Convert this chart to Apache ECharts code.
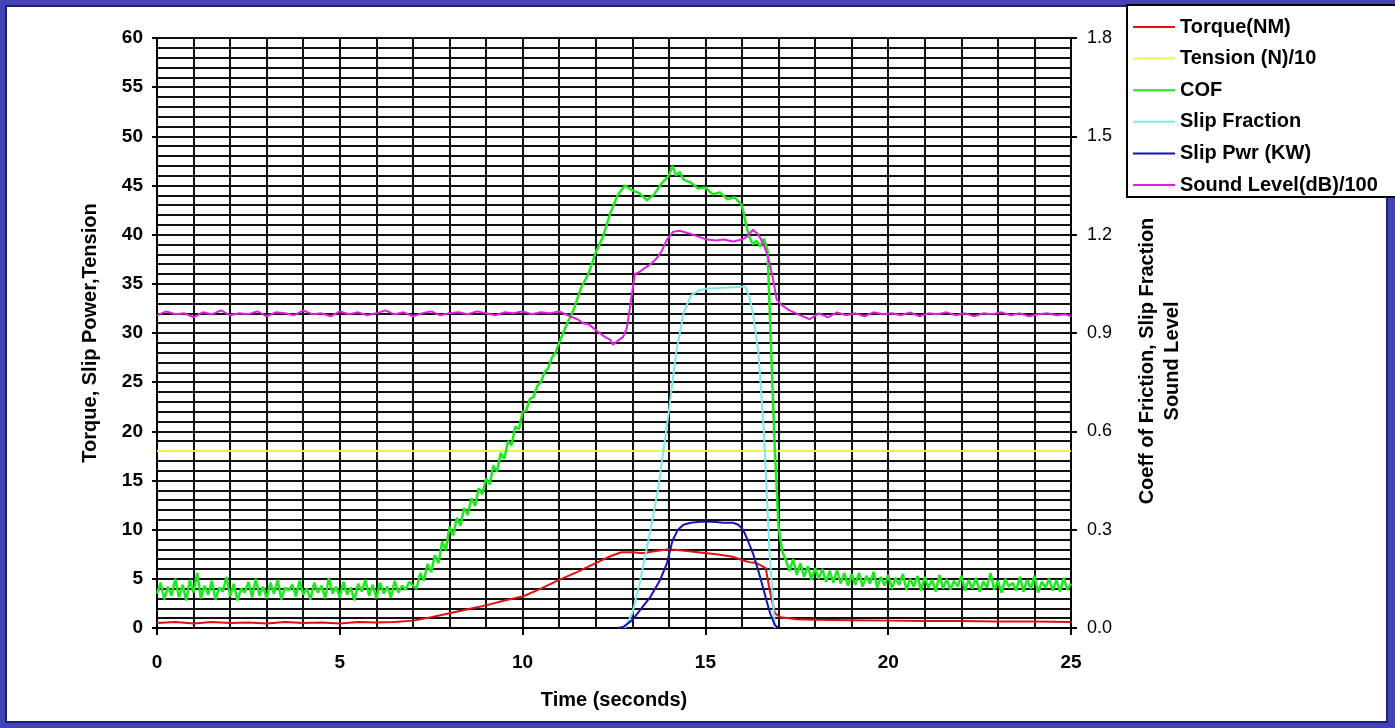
<!DOCTYPE html>
<html>
<head>
<meta charset="utf-8">
<script src="https://cdn.jsdelivr.net/npm/echarts@6/dist/echarts.min.js"></script>
<style>
  html, body { margin: 0; padding: 0; width: 1395px; height: 728px; overflow: hidden; background: #4343b4; }
  #panel { position: absolute; left: 5px; top: 5px; width: 1383px; height: 718px; box-sizing: border-box;
           background: #ffffff; border: 2px solid #20207a; }
  #chart { position: absolute; left: 0; top: 0; width: 1395px; height: 728px; }
</style>
</head>
<body>
<div id="panel"></div>
<div id="chart"></div>
<script>
// ---- data (time in seconds, value) ----
const seriesNames = ['Torque(NM)', 'Tension (N)/10', 'COF', 'Slip Fraction', 'Slip Pwr (KW)', 'Sound Level(dB)/100'];

// left axis units
const torqueData = [[0,0.5],[0.5,0.6],[1,0.45],[1.5,0.6],[2,0.5],[2.5,0.55],[3,0.45],[3.5,0.6],[4,0.5],[4.5,0.55],
  [5,0.45],[5.5,0.6],[6,0.55],[6.5,0.6],[7,0.75],[7.5,1.1],[8,1.5],[8.5,1.9],[9,2.3],[9.5,2.8],[10,3.2],[10.5,4.0],
  [11,4.9],[11.5,5.7],[12,6.6],[12.4,7.3],[12.7,7.7],[13,7.7],[13.3,7.6],[13.6,7.8],[14,8.0],[14.3,7.9],[14.8,7.7],
  [15.3,7.5],[15.75,7.25],[16,6.9],[16.2,6.7],[16.4,6.6],[16.65,6.1],[16.75,4.0],[16.9,1.5],[17.05,1.1],[17.5,0.9],
  [18,0.85],[19,0.8],[20,0.75],[21,0.7],[22,0.7],[23,0.65],[24,0.65],[25,0.6]];

const tensionData = [[0,18],[25,18]];

const slipPowerData = [[12.6,0],[12.75,0.1],[13.0,0.8],[13.25,2.0],[13.5,3.2],[13.75,4.8],[13.95,6.6],[14.1,8.9],
  [14.25,10.0],[14.4,10.5],[14.6,10.7],[14.85,10.8],[15.2,10.8],[15.5,10.7],[15.75,10.7],[15.9,10.5],[16.03,10.0],
  [16.15,9.0],[16.3,7.6],[16.45,5.8],[16.57,4.2],[16.67,2.8],[16.77,1.5],[16.9,0.3],[17.0,0]];

// right axis units
const cofData = [[0,0.105],[0.1,0.138],[0.2,0.087],[0.3,0.126],[0.4,0.099],[0.5,0.150],[0.6,0.093],[0.7,0.132],[0.8,0.084],[0.9,0.147],
  [1,0.108],[1.1,0.168],[1.2,0.090],[1.3,0.129],[1.4,0.102],[1.5,0.144],[1.6,0.087],[1.7,0.123],[1.8,0.111],[1.9,0.156],
  [2,0.096],[2.1,0.135],[2.2,0.084],[2.3,0.120],[2.4,0.108],[2.5,0.141],[2.6,0.093],[2.7,0.150],[2.8,0.099],[2.9,0.126],
  [3,0.090],[3.1,0.138],[3.2,0.105],[3.3,0.147],[3.4,0.087],[3.5,0.123],[3.6,0.114],[3.7,0.132],[3.8,0.096],[3.9,0.144],
  [4,0.102],[4.1,0.120],[4.2,0.087],[4.3,0.138],[4.4,0.108],[4.5,0.129],[4.6,0.090],[4.7,0.153],[4.8,0.105],[4.9,0.126],
  [5,0.093],[5.1,0.141],[5.2,0.102],[5.3,0.123],[5.4,0.084],[5.5,0.135],[5.6,0.111],[5.7,0.147],[5.8,0.099],[5.9,0.132],
  [6,0.090],[6.1,0.138],[6.2,0.105],[6.3,0.126],[6.4,0.093],[6.5,0.144],[6.6,0.108],[6.7,0.129],[6.8,0.117],[6.9,0.141],
  [7,0.129],[7.1,0.120],[7.2,0.168],[7.3,0.144],[7.4,0.195],[7.5,0.171],[7.6,0.222],[7.7,0.198],[7.8,0.264],[7.9,0.237],
  [8,0.309],[8.1,0.282],[8.2,0.336],[8.3,0.312],[8.4,0.366],[8.5,0.345],[8.6,0.396],[8.7,0.372],[8.8,0.426],[8.9,0.408],
  [9,0.456],[9.1,0.438],[9.2,0.495],[9.3,0.477],[9.4,0.534],[9.5,0.516],[9.6,0.570],[9.7,0.558],[9.8,0.615],[9.9,0.606],
  [10,0.660],[10.1,0.663],[10.2,0.699],[10.3,0.705],[10.4,0.738],[10.5,0.750],[10.6,0.780],[10.7,0.792],[10.8,0.825],[10.9,0.840],
  [11,0.870],[11.2,0.924],[11.4,0.972],[11.6,1.038],[11.8,1.080],[12,1.146],[12.2,1.194],[12.4,1.266],[12.6,1.320],[12.8,1.350],
  [13,1.335],[13.2,1.326],[13.4,1.305],[13.6,1.323],[13.8,1.356],[14,1.380],[14.1,1.410],[14.2,1.380],[14.3,1.392],[14.4,1.368],
  [14.6,1.359],[14.8,1.341],[15,1.344],[15.2,1.323],[15.4,1.329],[15.6,1.308],[15.8,1.314],[16,1.290],[16.1,1.236],[16.2,1.194],
  [16.3,1.170],[16.4,1.182],[16.5,1.164],[16.6,1.188],[16.7,1.152],[16.8,0.840],[16.9,0.540],[17,0.310],[17.1,0.234],
  [17.2,0.207],[17.3,0.174],[17.4,0.210],[17.5,0.162],[17.6,0.198],[17.7,0.156],[17.8,0.189],[17.9,0.147],[18,0.183],[18.1,0.150],
  [18.2,0.180],[18.3,0.141],[18.4,0.174],[18.5,0.138],[18.6,0.177],[18.7,0.135],[18.8,0.168],[18.9,0.129],[19,0.165],[19.1,0.132],
  [19.2,0.168],[19.3,0.126],[19.4,0.159],[19.5,0.135],[19.6,0.171],[19.7,0.123],[19.8,0.156],[19.9,0.129],[20,0.162],[20.1,0.120],
  [20.2,0.153],[20.3,0.132],[20.4,0.165],[20.5,0.117],[20.6,0.150],[20.7,0.126],[20.8,0.159],[20.9,0.114],[21,0.156],[21.1,0.123],
  [21.2,0.147],[21.3,0.111],[21.4,0.162],[21.5,0.120],[21.6,0.150],[21.7,0.117],[21.8,0.144],[21.9,0.126],[22,0.159],[22.1,0.114],
  [22.2,0.147],[22.3,0.120],[22.4,0.153],[22.5,0.111],[22.6,0.141],[22.7,0.123],[22.8,0.168],[22.9,0.117],[23,0.144],[23.1,0.108],
  [23.2,0.150],[23.3,0.126],[23.4,0.138],[23.5,0.114],[23.6,0.156],[23.7,0.111],[23.8,0.147],[23.9,0.120],[24,0.159],[24.1,0.108],
  [24.2,0.141],[24.3,0.123],[24.4,0.150],[24.5,0.114],[24.6,0.147],[24.7,0.111],[24.8,0.153],[24.9,0.117],[25,0.135]];

const slipFractionData = [[12.8,0],[13.0,0.045],[13.2,0.135],[13.5,0.30],[13.7,0.42],[14.0,0.66],[14.2,0.84],[14.4,0.96],
  [14.6,1.014],[14.8,1.029],[15.0,1.035],[15.5,1.038],[16.0,1.041],[16.1,1.041],[16.2,1.011],[16.3,0.96],[16.45,0.84],
  [16.6,0.60],[16.75,0.24],[16.9,0]];

const soundData = [[0,0.954],[0.25,0.966],[0.5,0.957],[0.75,0.960],[1,0.948],[1.25,0.963],[1.5,0.957],[1.75,0.969],
  [2,0.954],[2.25,0.960],[2.5,0.957],[2.75,0.966],[3,0.951],[3.25,0.963],[3.5,0.960],[3.75,0.954],[4,0.969],[4.25,0.957],
  [4.5,0.960],[4.75,0.951],[5,0.966],[5.25,0.957],[5.5,0.963],[5.75,0.954],[6,0.960],[6.25,0.969],[6.5,0.957],[6.75,0.963],
  [7,0.951],[7.25,0.960],[7.5,0.966],[7.75,0.954],[8,0.960],[8.25,0.963],[8.5,0.957],[8.75,0.966],[9,0.960],[9.25,0.954],
  [9.5,0.963],[9.75,0.960],[10,0.966],[10.25,0.957],[10.5,0.963],[10.75,0.960],[11,0.966],
  [11.3,0.951],[11.5,0.942],[11.65,0.930],[11.8,0.927],[12,0.909],[12.1,0.900],[12.25,0.888],[12.4,0.879],[12.47,0.864],
  [12.6,0.876],[12.75,0.888],[12.85,0.915],[12.94,0.981],[13.07,1.080],[13.2,1.086],[13.3,1.095],[13.5,1.110],[13.67,1.128],
  [13.8,1.149],[13.95,1.185],[14.12,1.209],[14.3,1.212],[14.58,1.203],[14.8,1.194],[15.04,1.185],[15.3,1.182],[15.5,1.185],
  [15.76,1.179],[16,1.185],[16.14,1.194],[16.3,1.215],[16.45,1.200],[16.58,1.173],[16.71,1.134],[16.85,1.065],[16.95,1.002],
  [17.1,0.984],[17.3,0.969],[17.6,0.954],[17.85,0.942],[18.1,0.960],[18.35,0.948],[18.6,0.963],[18.85,0.954],[19.1,0.960],
  [19.35,0.951],[19.6,0.963],[19.85,0.957],[20.1,0.960],[20.35,0.954],[20.6,0.963],[20.85,0.951],[21.1,0.960],[21.35,0.957],
  [21.6,0.963],[21.85,0.954],[22.1,0.960],[22.35,0.951],[22.6,0.960],[22.85,0.957],[23.1,0.963],[23.35,0.954],[23.6,0.960],
  [23.85,0.951],[24.1,0.957],[24.35,0.960],[24.6,0.954],[24.85,0.957],[25,0.951]];

const seriesColors = ['#e01010', '#f2ee55', '#1ee81e', '#80e8e8', '#1414b4', '#e020e0'];

// ---- chart ----
const FONT = "'Liberation Sans', Arial, sans-serif";
const chart = echarts.init(document.getElementById('chart'), null, { renderer: 'canvas' });

const gridLine = { show: true, lineStyle: { color: '#111', width: 2 } };

function lineSeries(i, data, yAxisIndex, width) {
  return {
    name: seriesNames[i], type: 'line', data: data, yAxisIndex: yAxisIndex,
    showSymbol: false, symbol: 'none', smooth: false, animation: false,
    color: seriesColors[i],
    lineStyle: { color: seriesColors[i], width: width },
    itemStyle: { color: seriesColors[i] }
  };
}

chart.setOption({
  animation: false,
  grid: { left: 157, right: 324, top: 38, bottom: 100, containLabel: false },
  legend: {
    orient: 'vertical', left: 1127, top: 5,
    padding: [12, 40, 2, 6],
    itemWidth: 42, itemHeight: 2, itemGap: 11.6,
    icon: 'rect',
    backgroundColor: '#ffffff', borderColor: '#000', borderWidth: 2, borderRadius: 0,
    textStyle: { fontFamily: FONT, fontSize: 20, fontWeight: 'bold', color: '#000', lineHeight: 20 },
    data: seriesNames
  },
  xAxis: {
    type: 'value', min: 0, max: 25, interval: 5,
    name: 'Time (seconds)', nameLocation: 'middle', nameGap: 62,
    nameTextStyle: { fontFamily: FONT, fontSize: 20, fontWeight: 'bold', color: '#000' },
    axisLine: { show: true, lineStyle: { color: '#000', width: 2 } },
    axisTick: { show: true, inside: false, length: 7, lineStyle: { color: '#000', width: 2 } },
    axisLabel: { fontFamily: FONT, fontSize: 19, fontWeight: 'bold', color: '#000', margin: 25 },
    splitLine: gridLine,
    minorTick: { show: false, splitNumber: 5 },
    minorSplitLine: gridLine
  },
  yAxis: [{
    type: 'value', position: 'left', min: 0, max: 60, interval: 5,
    name: 'Torque, Slip Power,Tension', nameLocation: 'middle', nameGap: 57, nameRotate: 90,
    nameTextStyle: { fontFamily: FONT, fontSize: 20, fontWeight: 'bold', color: '#000' },
    axisLine: { show: true, lineStyle: { color: '#000', width: 2 } },
    axisTick: { show: true, inside: false, length: 5, lineStyle: { color: '#000', width: 2 } },
    axisLabel: { fontFamily: FONT, fontSize: 19, fontWeight: 'bold', color: '#000', margin: 14 },
    splitLine: gridLine,
    minorTick: { show: false, splitNumber: 5 },
    minorSplitLine: gridLine
  }, {
    type: 'value', position: 'right', min: 0, max: 1.8, interval: 0.3,
    name: 'Coeff of Friction, Slip Fraction\nSound Level', nameLocation: 'middle', nameGap: 64, nameRotate: 90,
    nameTextStyle: { fontFamily: FONT, fontSize: 20, fontWeight: 'bold', color: '#000', lineHeight: 25,
                     align: 'center', padding: [0, 56, 0, 0] },
    axisLine: { show: true, lineStyle: { color: '#000', width: 2 } },
    axisTick: { show: true, inside: false, length: 6, lineStyle: { color: '#000', width: 2 } },
    axisLabel: { fontFamily: FONT, fontSize: 18, color: '#000', margin: 16,
                 formatter: function (v) { return v.toFixed(1); } },
    splitLine: { show: false }
  }],
  series: [
    lineSeries(0, torqueData, 0, 2),
    lineSeries(1, tensionData, 0, 2),
    lineSeries(2, cofData, 1, 2.5),
    lineSeries(3, slipFractionData, 1, 2),
    lineSeries(4, slipPowerData, 0, 2),
    lineSeries(5, soundData, 1, 2)
  ]
});
</script>
</body>
</html>
